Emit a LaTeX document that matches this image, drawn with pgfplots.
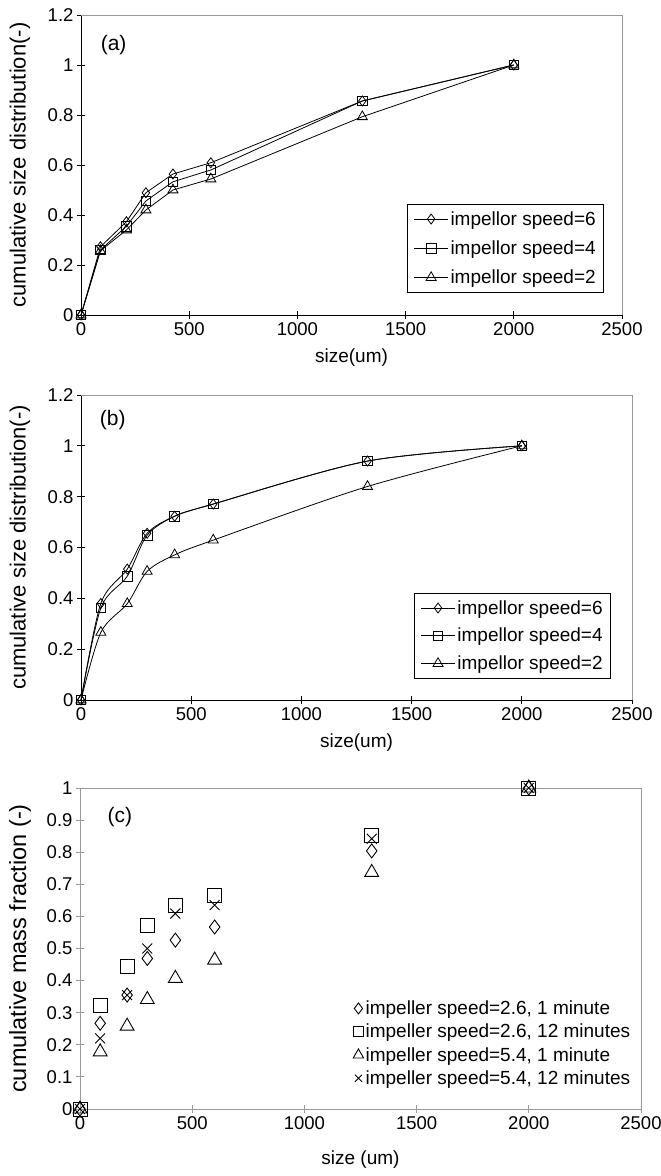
\documentclass[border=0pt]{standalone}
\usepackage{pgfplots}
\pgfplotsset{compat=1.18}
\usepackage{fontspec}
\setmainfont{Liberation Sans}
\definecolor{boxgray}{gray}{0.6}
\begin{document}
\begin{tikzpicture}[x=1pt,y=1pt]
\useasboundingbox (0,0) rectangle (661,1176);
\pgfplotsset{
  common/.style={
    scale only axis,
    font=\fontsize{19}{22}\selectfont,
    tick label style={font=\fontsize{18.5}{22}\selectfont},
    /pgf/number format/assume math mode=true,
    /pgf/number format/1000 sep={},
    /pgf/number format/fixed,
    xmin=0, xmax=2500, xtick={0,500,1000,1500,2000,2500},
    tick align=center, major tick length=8pt,
    axis lines*=left,
    axis line style={black, line width=0.8pt},
    tick style={black, line width=0.8pt},
    clip=false,
  },
  lineplot/.style={black, line width=0.8pt, mark options={fill=white, solid, line width=0.8pt}},
  leg/.style={legend style={draw=black, line width=0.8pt, fill=white,
      font=\fontsize{19}{22}\selectfont, row sep=10pt, inner xsep=6pt, inner ysep=5pt,
      cells={anchor=west}},
      legend image code/.code={\draw[mark repeat=2,mark phase=2] plot coordinates {(0pt,0pt) (17pt,0pt) (34pt,0pt)};}},
}
% ---------------- (a)
\begin{axis}[common, leg, at={(81pt,861pt)}, anchor=south west, width=541pt, height=300pt,
  ymin=0, ymax=1.2, ytick={0,0.2,0.4,0.6,0.8,1,1.2},
  xlabel={size(um)}, ylabel={cumulative size distribution(-)},
  every axis x label/.style={at={(axis description cs:0.5,-0.143)}, anchor=center},
  every axis y label/.style={at={(axis description cs:-0.113,0.5)}, anchor=center, rotate=90, font=\fontsize{22}{24}\selectfont},
  legend style={at={(0.967,0.37)}, anchor=north east},
]
\draw[boxgray, line width=0.8pt] (rel axis cs:0,1) -- (rel axis cs:1,1) -- (rel axis cs:1,0);
\addplot[lineplot, mark=diamond, mark size=5pt] coordinates {(0,0) (90,0.273) (210,0.373) (300,0.489) (425,0.564) (600,0.609) (1300,0.856) (2000,1.0)};
\addlegendentry{impellor speed=6}
\addplot[lineplot, mark=square, mark size=4.8pt] coordinates {(0,0) (90,0.26) (210,0.355) (300,0.456) (425,0.533) (600,0.58) (1300,0.856) (2000,1.0)};
\addlegendentry{impellor speed=4}
\addplot[lineplot, mark=triangle, mark size=5.8pt] coordinates {(0,0) (90,0.257) (210,0.34) (300,0.42) (425,0.50) (600,0.544) (1300,0.793) (2000,1.0)};
\addlegendentry{impellor speed=2}
\node[anchor=west, font=\fontsize{21}{24}\selectfont] at (rel axis cs:0.03,0.9) {(a)};
\end{axis}
% ---------------- (b)
\begin{axis}[common, leg, at={(81pt,476pt)}, anchor=south west, width=551pt, height=305pt,
  ymin=0, ymax=1.2, ytick={0,0.2,0.4,0.6,0.8,1,1.2},
  xlabel={size(um)}, ylabel={cumulative size distribution(-)},
  every axis x label/.style={at={(axis description cs:0.5,-0.141)}, anchor=center},
  every axis y label/.style={at={(axis description cs:-0.111,0.5)}, anchor=center, rotate=90, font=\fontsize{22}{24}\selectfont},
  legend style={at={(0.962,0.351)}, anchor=north east, row sep=8.5pt},
]
\draw[boxgray, line width=0.8pt] (rel axis cs:0,1) -- (rel axis cs:1,1) -- (rel axis cs:1,0);
\addplot[lineplot, smooth, tension=0.5, mark=diamond, mark size=5pt] coordinates {(0,0) (90,0.38) (210,0.515) (300,0.656) (425,0.723) (600,0.771) (1300,0.94) (2000,1.0)};
\addlegendentry{impellor speed=6}
\addplot[lineplot, smooth, tension=0.5, mark=square, mark size=4.8pt] coordinates {(0,0) (90,0.362) (210,0.487) (300,0.648) (425,0.723) (600,0.771) (1300,0.94) (2000,1.0)};
\addlegendentry{impellor speed=4}
\addplot[lineplot, smooth, tension=0.5, mark=triangle, mark size=5.8pt] coordinates {(0,0) (90,0.266) (210,0.379) (300,0.506) (425,0.571) (600,0.629) (1300,0.84) (2000,1.0)};
\addlegendentry{impellor speed=2}
\node[anchor=west, font=\fontsize{21}{24}\selectfont] at (rel axis cs:0.028,0.918) {(b)};
\end{axis}
% ---------------- (c)
\begin{axis}[common, at={(80pt,67pt)}, anchor=south west, width=561pt, height=321pt,
  axis lines=box,
  axis line style={boxgray, line width=0.8pt},
  tick style={boxgray, line width=0.8pt},
  ymin=0, ymax=1, ytick={0,0.1,0.2,0.3,0.4,0.5,0.6,0.7,0.8,0.9,1},
  xtick pos=bottom, ytick pos=left,
  xlabel={size (um)}, ylabel={cumulative mass fraction (-)},
  every axis x label/.style={at={(axis description cs:0.5,-0.159)}, anchor=center},
  every axis y label/.style={at={(axis description cs:-0.107,0.5)}, anchor=center, rotate=90, font=\fontsize{23.5}{26}\selectfont},
  legend style={at={(0.99,0.35)}, anchor=north east, draw=none, fill=none,
      font=\fontsize{19}{22}\selectfont, row sep=4pt, cells={anchor=west}},
]
\addplot[only marks, black, mark=diamond, mark size=7pt, mark options={line width=0.9pt}, legend image post style={mark size=5.5pt}] coordinates {(0,0) (90,0.267) (210,0.355) (300,0.469) (425,0.526) (600,0.567) (1300,0.804) (2000,1)};
\addlegendentry{impeller speed=2.6, 1 minute}
\addplot[only marks, black, mark=square, mark size=7pt, mark options={line width=0.9pt}, legend image post style={mark size=5pt}] coordinates {(0,0) (90,0.322) (210,0.445) (300,0.573) (425,0.633) (600,0.664) (1300,0.853) (2000,1)};
\addlegendentry{impeller speed=2.6, 12 minutes}
\addplot[only marks, black, mark=triangle, mark size=8pt, mark options={line width=0.9pt}, legend image post style={mark size=6pt}] coordinates {(0,0) (90,0.178) (210,0.258) (300,0.341) (425,0.407) (600,0.464) (1300,0.737) (2000,1)};
\addlegendentry{impeller speed=5.4, 1 minute}
\addplot[only marks, black, mark=x, mark size=7pt, mark options={line width=0.9pt}, legend image post style={mark size=5pt}] coordinates {(0,0) (90,0.22) (210,0.355) (300,0.5) (425,0.609) (600,0.635) (1300,0.842) (2000,1)};
\addlegendentry{impeller speed=5.4, 12 minutes}
\node[anchor=west, font=\fontsize{21}{24}\selectfont] at (rel axis cs:0.043,0.91) {(c)};
\end{axis}
\end{tikzpicture}
\end{document}
